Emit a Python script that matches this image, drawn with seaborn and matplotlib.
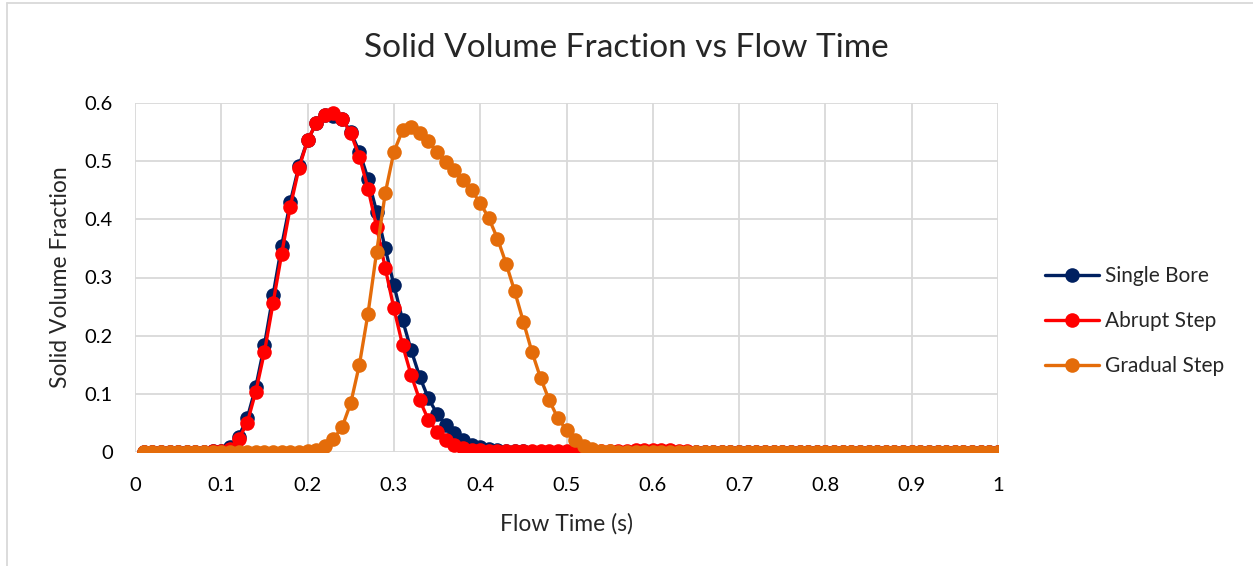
import numpy as np
import pandas as pd
import seaborn as sns
import matplotlib.pyplot as plt
from matplotlib.lines import Line2D

# flow time samples (s)
flow_time = np.round(np.arange(1, 101) / 100, 2)

single_bore = [
    0, 0, 0, 0, 0, 0, 0, 0, 0.001, 0.002,
    0.008, 0.026, 0.058, 0.112, 0.184, 0.270, 0.355, 0.430, 0.492, 0.536,
    0.565, 0.579, 0.578, 0.573, 0.550, 0.516, 0.470, 0.413, 0.350, 0.287,
    0.227, 0.175, 0.129, 0.092, 0.066, 0.046, 0.032, 0.020, 0.012, 0.008,
    0.005, 0.003, 0.002, 0.001, 0.001, 0, 0, 0, 0, 0,
    0, 0, 0, 0, 0, 0, 0, 0, 0, 0,
    0, 0, 0, 0, 0, 0, 0, 0, 0, 0,
    0, 0, 0, 0, 0, 0, 0, 0, 0, 0,
    0, 0, 0, 0, 0, 0, 0, 0, 0, 0,
    0, 0, 0, 0, 0, 0, 0, 0, 0, 0,
]

abrupt_step = [
    0, 0, 0, 0, 0, 0, 0, 0, 0.001, 0.001,
    0.006, 0.022, 0.050, 0.104, 0.172, 0.256, 0.341, 0.422, 0.488, 0.536,
    0.565, 0.579, 0.583, 0.573, 0.548, 0.508, 0.453, 0.387, 0.316, 0.247,
    0.184, 0.132, 0.089, 0.055, 0.035, 0.020, 0.012, 0.007, 0.004, 0.003,
    0.002, 0.002, 0.001, 0.001, 0.001, 0.001, 0.001, 0.001, 0.001, 0.001,
    0.001, 0.001, 0.001, 0.001, 0.001, 0.001, 0.002, 0.003, 0.004, 0.004,
    0.004, 0.003, 0.002, 0.001, 0, 0, 0, 0, 0, 0,
    0, 0, 0, 0, 0, 0, 0, 0, 0, 0,
    0, 0, 0, 0, 0, 0, 0, 0, 0, 0,
    0, 0, 0, 0, 0, 0, 0, 0, 0, 0,
]

gradual_step = [
    0, 0, 0, 0, 0, 0, 0, 0, 0, 0,
    0, 0, 0, 0, 0, 0, 0, 0, 0, 0.001,
    0.003, 0.010, 0.022, 0.043, 0.084, 0.150, 0.238, 0.344, 0.445, 0.516,
    0.553, 0.558, 0.549, 0.534, 0.516, 0.499, 0.485, 0.467, 0.450, 0.428,
    0.402, 0.367, 0.324, 0.276, 0.224, 0.172, 0.127, 0.089, 0.058, 0.038,
    0.021, 0.010, 0.005, 0.002, 0.001, 0, 0, 0, 0, 0,
    0, 0, 0, 0, 0, 0, 0, 0, 0, 0,
    0, 0, 0, 0, 0, 0, 0, 0, 0, 0,
    0, 0, 0, 0, 0, 0, 0, 0, 0, 0,
    0, 0, 0, 0, 0, 0, 0, 0, 0, 0,
]

series_names = ['Single Bore', 'Abrupt Step', 'Gradual Step']
colors = ['#002060', '#FF0000', '#E46C0A']
x_ticks = [0, 0.1, 0.2, 0.3, 0.4, 0.5, 0.6, 0.7, 0.8, 0.9, 1]
x_tick_labels = ['0', '0.1', '0.2', '0.3', '0.4', '0.5', '0.6', '0.7', '0.8', '0.9', '1']
y_ticks = [0, 0.1, 0.2, 0.3, 0.4, 0.5, 0.6]
y_tick_labels = ['0', '0.1', '0.2', '0.3', '0.4', '0.5', '0.6']

df = pd.concat([
    pd.DataFrame({'Flow Time': flow_time, 'Fraction': vals, 'Series': name})
    for name, vals in zip(series_names, [single_bore, abrupt_step, gradual_step])
])

sns.set_style('white')
plt.rcParams['font.family'] = ['Lato', 'DejaVu Sans']

fig = plt.figure(figsize=(12.53, 5.66), dpi=100)
ax = fig.add_axes([135 / 1253, 1 - 452 / 566, 863 / 1253, 349 / 566])

sns.lineplot(data=df, x='Flow Time', y='Fraction', hue='Series',
             hue_order=series_names, palette=colors, marker='o',
             markersize=10.5, markeredgewidth=0, linewidth=2.4,
             legend=False, ax=ax, zorder=3)

ax.set_xlim(0, 1)
ax.set_ylim(0, 0.6)
ax.set_xticks(x_ticks)
ax.set_xticklabels(x_tick_labels)
ax.set_yticks(y_ticks)
ax.set_yticklabels(y_tick_labels)
ax.grid(True, color='#D9D9D9', linewidth=1.3, zorder=0)
ax.set_axisbelow(True)
for s in ax.spines.values():
    s.set_visible(False)
ax.tick_params(axis='both', length=0, labelsize=14.5, colors='black')
ax.tick_params(axis='x', pad=18)
ax.tick_params(axis='y', pad=16)
for lab in ax.get_xticklabels() + ax.get_yticklabels():
    lab.set_clip_on(False)

ax.set_xlabel('Flow Time (s)', fontsize=16.5, labelpad=14)
ax.set_ylabel('Solid Volume Fraction', fontsize=16.5, labelpad=10)
fig.text(0.5, 1 - 48 / 566, 'Solid Volume Fraction vs Flow Time',
         ha='center', va='center', fontsize=24)

handles = [Line2D([0], [0], color=c, lw=2.4, marker='o', markersize=10.5,
                  markeredgewidth=0) for c in colors]
fig.legend(handles, series_names, loc='center left',
           bbox_to_anchor=(1026 / 1253, 1 - 321 / 566), frameon=False,
           fontsize=15, handlelength=2.6, labelspacing=1.2, handletextpad=0.3)

# chart frame
fig.add_artist(Line2D([7 / 1253, 7 / 1253], [0, 1 - 3 / 566], color='#D9D9D9', lw=1.3))
fig.add_artist(Line2D([7 / 1253, 1], [1 - 3 / 566, 1 - 3 / 566], color='#D9D9D9', lw=1.3))

fig.savefig('out.png', dpi=100)
